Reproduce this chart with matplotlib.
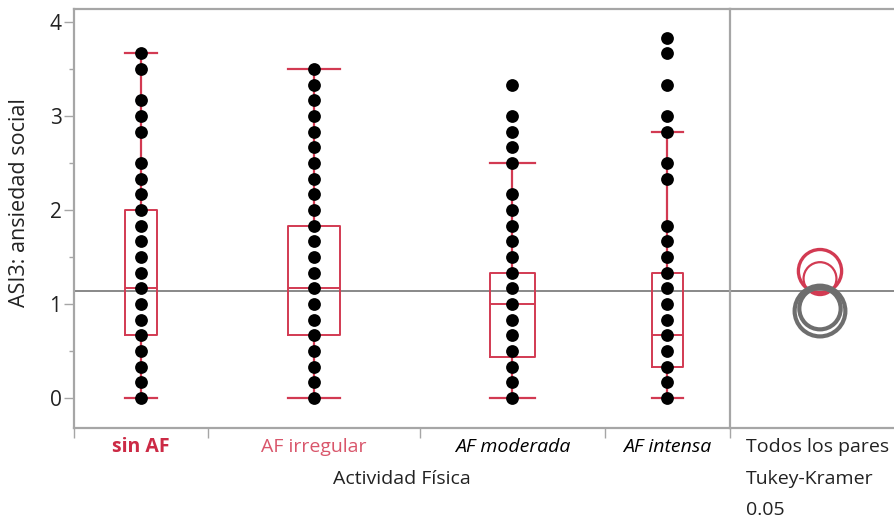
import matplotlib
matplotlib.use('Agg')
import matplotlib.pyplot as plt
from matplotlib.patches import Circle

# ---------------- data ----------------
categories = ['sin AF', 'AF irregular', 'AF moderada', 'AF intensa']
q1 = [0.67, 0.67, 0.44, 0.33]
medians = [1.17, 1.17, 1.00, 0.67]
q3 = [2.00, 1.83, 1.33, 1.33]
whisker_low = [0.0, 0.0, 0.0, 0.0]
whisker_high = [3.67, 3.50, 2.50, 2.83]

points_sin_af = [0, 0.17, 0.33, 0.5, 0.67, 0.83, 1.0, 1.17, 1.33, 1.5, 1.67, 1.83,
                 2.0, 2.17, 2.33, 2.5, 2.83, 3.0, 3.17, 3.5, 3.67]
points_irregular = [0, 0.17, 0.33, 0.5, 0.67, 0.83, 1.0, 1.17, 1.33, 1.5, 1.67, 1.83,
                    2.0, 2.17, 2.33, 2.5, 2.67, 2.83, 3.0, 3.17, 3.33, 3.5]
points_moderada = [0, 0.17, 0.33, 0.5, 0.67, 0.83, 1.0, 1.17, 1.33, 1.5, 1.67, 1.83,
                   2.0, 2.17, 2.5, 2.67, 2.83, 3.0, 3.33]
points_intensa = [0, 0.17, 0.33, 0.5, 0.67, 0.83, 1.0, 1.17, 1.33, 1.5, 1.67, 1.83,
                  2.33, 2.5, 2.83, 3.0, 3.33, 3.67, 3.83]

grand_mean = 1.14
circle_centers = [1.35, 1.27, 0.95, 0.925]
circle_radii = [0.23, 0.175, 0.22, 0.27]

y_ticks = [0, 1, 2, 3, 4]
right_texts = ['Todos los pares', 'Tukey-Kramer', '0.05']

# ---------------- style / layout ----------------
plt.rcParams['font.family'] = ['Open Sans', 'DejaVu Sans']
cat_widths = [134, 212, 185, 125]          # relative widths (JMP: proportional to n)
box_frac = 0.245
BOX_C = '#D23A52'
SPINE_C = '#A6A6A6'
TXT_C = '#222222'
label_colors = ['#CC2A45', '#D9566B', 'black', 'black']
label_weights = ['bold', 'normal', 'normal', 'normal']
label_styles = ['normal', 'normal', 'italic', 'italic']

W, H = 895, 521
fig = plt.figure(figsize=(W / 100, H / 100), dpi=100)
L, R_main, R_end, T, B = 74, 730, 895, 9, 428
ax = fig.add_axes([L / W, 1 - B / H, (R_main - L) / W, (B - T) / H])
ax2 = fig.add_axes([R_main / W, 1 - B / H, (R_end - R_main) / W, (B - T) / H])

ylim = (-0.32, 4.14)
bounds = [0]
for w in cat_widths:
    bounds.append(bounds[-1] + w)
centers = [(bounds[i] + bounds[i + 1]) / 2 for i in range(len(cat_widths))]
box_w = [w * box_frac for w in cat_widths]

stats = []
for i, c in enumerate(categories):
    stats.append(dict(label=c, q1=q1[i], med=medians[i], q3=q3[i],
                      whislo=whisker_low[i], whishi=whisker_high[i], fliers=[]))
ax.bxp(stats, positions=centers, widths=box_w, showfliers=False,
       boxprops=dict(color=BOX_C, linewidth=1.4),
       medianprops=dict(color=BOX_C, linewidth=1.4),
       whiskerprops=dict(color=BOX_C, linewidth=1.6),
       capprops=dict(color=BOX_C, linewidth=1.6),
       capwidths=box_w, zorder=2)

# reference line (grand mean)
ax.axhline(grand_mean, color='#7F7F7F', linewidth=1.3, zorder=1)
ax2.axhline(grand_mean, color='#7F7F7F', linewidth=1.3, zorder=1)

all_points = [points_sin_af, points_irregular, points_moderada, points_intensa]
for i, pts in enumerate(all_points):
    ax.plot([centers[i]] * len(pts), pts, 'o', color='black', markersize=9.2,
            markeredgewidth=0, zorder=3, linestyle='none')

ax.set_xlim(0, bounds[-1])
ax.set_ylim(*ylim)
ax.set_yticks(y_ticks)
ax.set_yticks([0.5, 1.5, 2.5, 3.5], minor=True)
ax.tick_params(axis='y', which='major', length=7, width=1, color=SPINE_C,
               labelsize=15, pad=2, labelcolor=TXT_C)
ax.tick_params(axis='y', which='minor', length=3.5, width=1, color=SPINE_C)

ax.set_xticks(centers)
ax.set_xticklabels([])
ax.set_xticks(bounds[:-1], minor=True)
ax.tick_params(axis='x', which='major', length=0)
ax.tick_params(axis='x', which='minor', length=7, width=1, color=SPINE_C)
for i, c in enumerate(categories):
    fig.text((L + centers[i] * (R_main - L) / bounds[-1]) / W, 1 - 447 / H, c,
             ha='center', va='center', fontsize=14,
             color=label_colors[i], fontweight=label_weights[i],
             fontstyle=label_styles[i])

fig.text(20 / W, 1 - 203 / H, 'ASI3: ansiedad social', rotation=90,
         ha='center', va='center', fontsize=15.5, color=TXT_C)
fig.text((L + R_main) / 2 / W, 1 - 479 / H, 'Actividad Física', ha='center',
         va='center', fontsize=14, color=TXT_C)

for s in ['left', 'bottom', 'top']:
    ax.spines[s].set_color(SPINE_C)
    ax.spines[s].set_linewidth(1.6)
ax.spines['right'].set_visible(False)

# right panel: comparison circles
ax2.set_ylim(*ylim)
px_per_unit = (B - T) / (ylim[1] - ylim[0])
ax2.set_xlim(0, (R_end - R_main) / px_per_unit)
cx = 90 / px_per_unit
circle_colors = [BOX_C, BOX_C, '#6E6E6E', '#6E6E6E']
circle_lw = [2.4, 1.6, 3.0, 3.0]
for i in range(len(categories)):
    ax2.add_patch(Circle((cx, circle_centers[i]), circle_radii[i], fill=False,
                         edgecolor=circle_colors[i], linewidth=circle_lw[i], zorder=3))
ax2.set_xticks([0])
ax2.set_xticklabels([])
ax2.set_yticks([])
ax2.tick_params(axis='x', length=7, width=1, color=SPINE_C)
for s in ['left', 'bottom', 'top']:
    ax2.spines[s].set_color(SPINE_C)
    ax2.spines[s].set_linewidth(1.6)
ax2.spines['right'].set_visible(False)

for t, yy in zip(right_texts, [447, 479, 510]):
    fig.text(746 / W, 1 - yy / H, t, ha='left', va='center', fontsize=14,
             color=TXT_C)

fig.savefig('out.png', dpi=100)
